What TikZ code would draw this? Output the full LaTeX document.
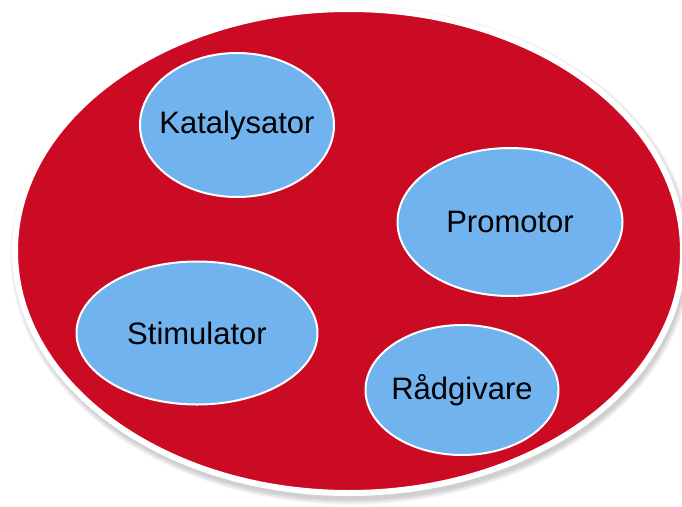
\documentclass[tikz,border=0pt]{standalone}
\usepackage{fontspec}
\setmainfont{Liberation Sans}
\usetikzlibrary{shapes.geometric}
\definecolor{wheelred}{HTML}{CB0A23}
\definecolor{roleblue}{HTML}{71B3EF}

\begin{document}
\begin{tikzpicture}[
		x=1pt, y=-1pt,
		wheel/.style={ellipse, fill=wheelred, draw=white, line width=6pt, inner sep=0pt},
		halo/.style={ellipse, fill=black, opacity=0.05, inner sep=0pt},
		role/.style={ellipse, fill=roleblue, draw=white, line width=2pt, inner sep=0pt},
		roletext/.style={font=\fontsize{31}{36}\selectfont, inner sep=0pt},
		]
		\useasboundingbox (0,0) rectangle (682,506);
		
		% soft shadow under the big ellipse
		\foreach \s in {0,3,6,9}
		\node[halo, minimum width={(672+\s)*1pt}, minimum height={(490+\s)*1pt}] (halo\s) at (351, 255) {};
		
		\node[wheel, minimum width=668pt, minimum height=484pt] (wheel) at (349, 251) {};
		
		\node[role, minimum width=194pt, minimum height=144pt] (kat) at (237, 125) {};
		\node[role, minimum width=225pt, minimum height=148pt] (pro) at (510, 222) {};
		\node[role, minimum width=241pt, minimum height=143pt] (sti) at (197, 333) {};
		\node[role, minimum width=193pt, minimum height=130pt] (rad) at (462, 390) {};
		
		\node[roletext] (katlbl) at (kat.center) {Katalysator};
		\node[roletext] (prolbl) at (pro.center) {Promotor};
		\node[roletext] (stilbl) at (sti.center) {Stimulator};
		\node[roletext] (radlbl) at (rad.center) {Rådgivare};
		
\end{tikzpicture}
\end{document}
